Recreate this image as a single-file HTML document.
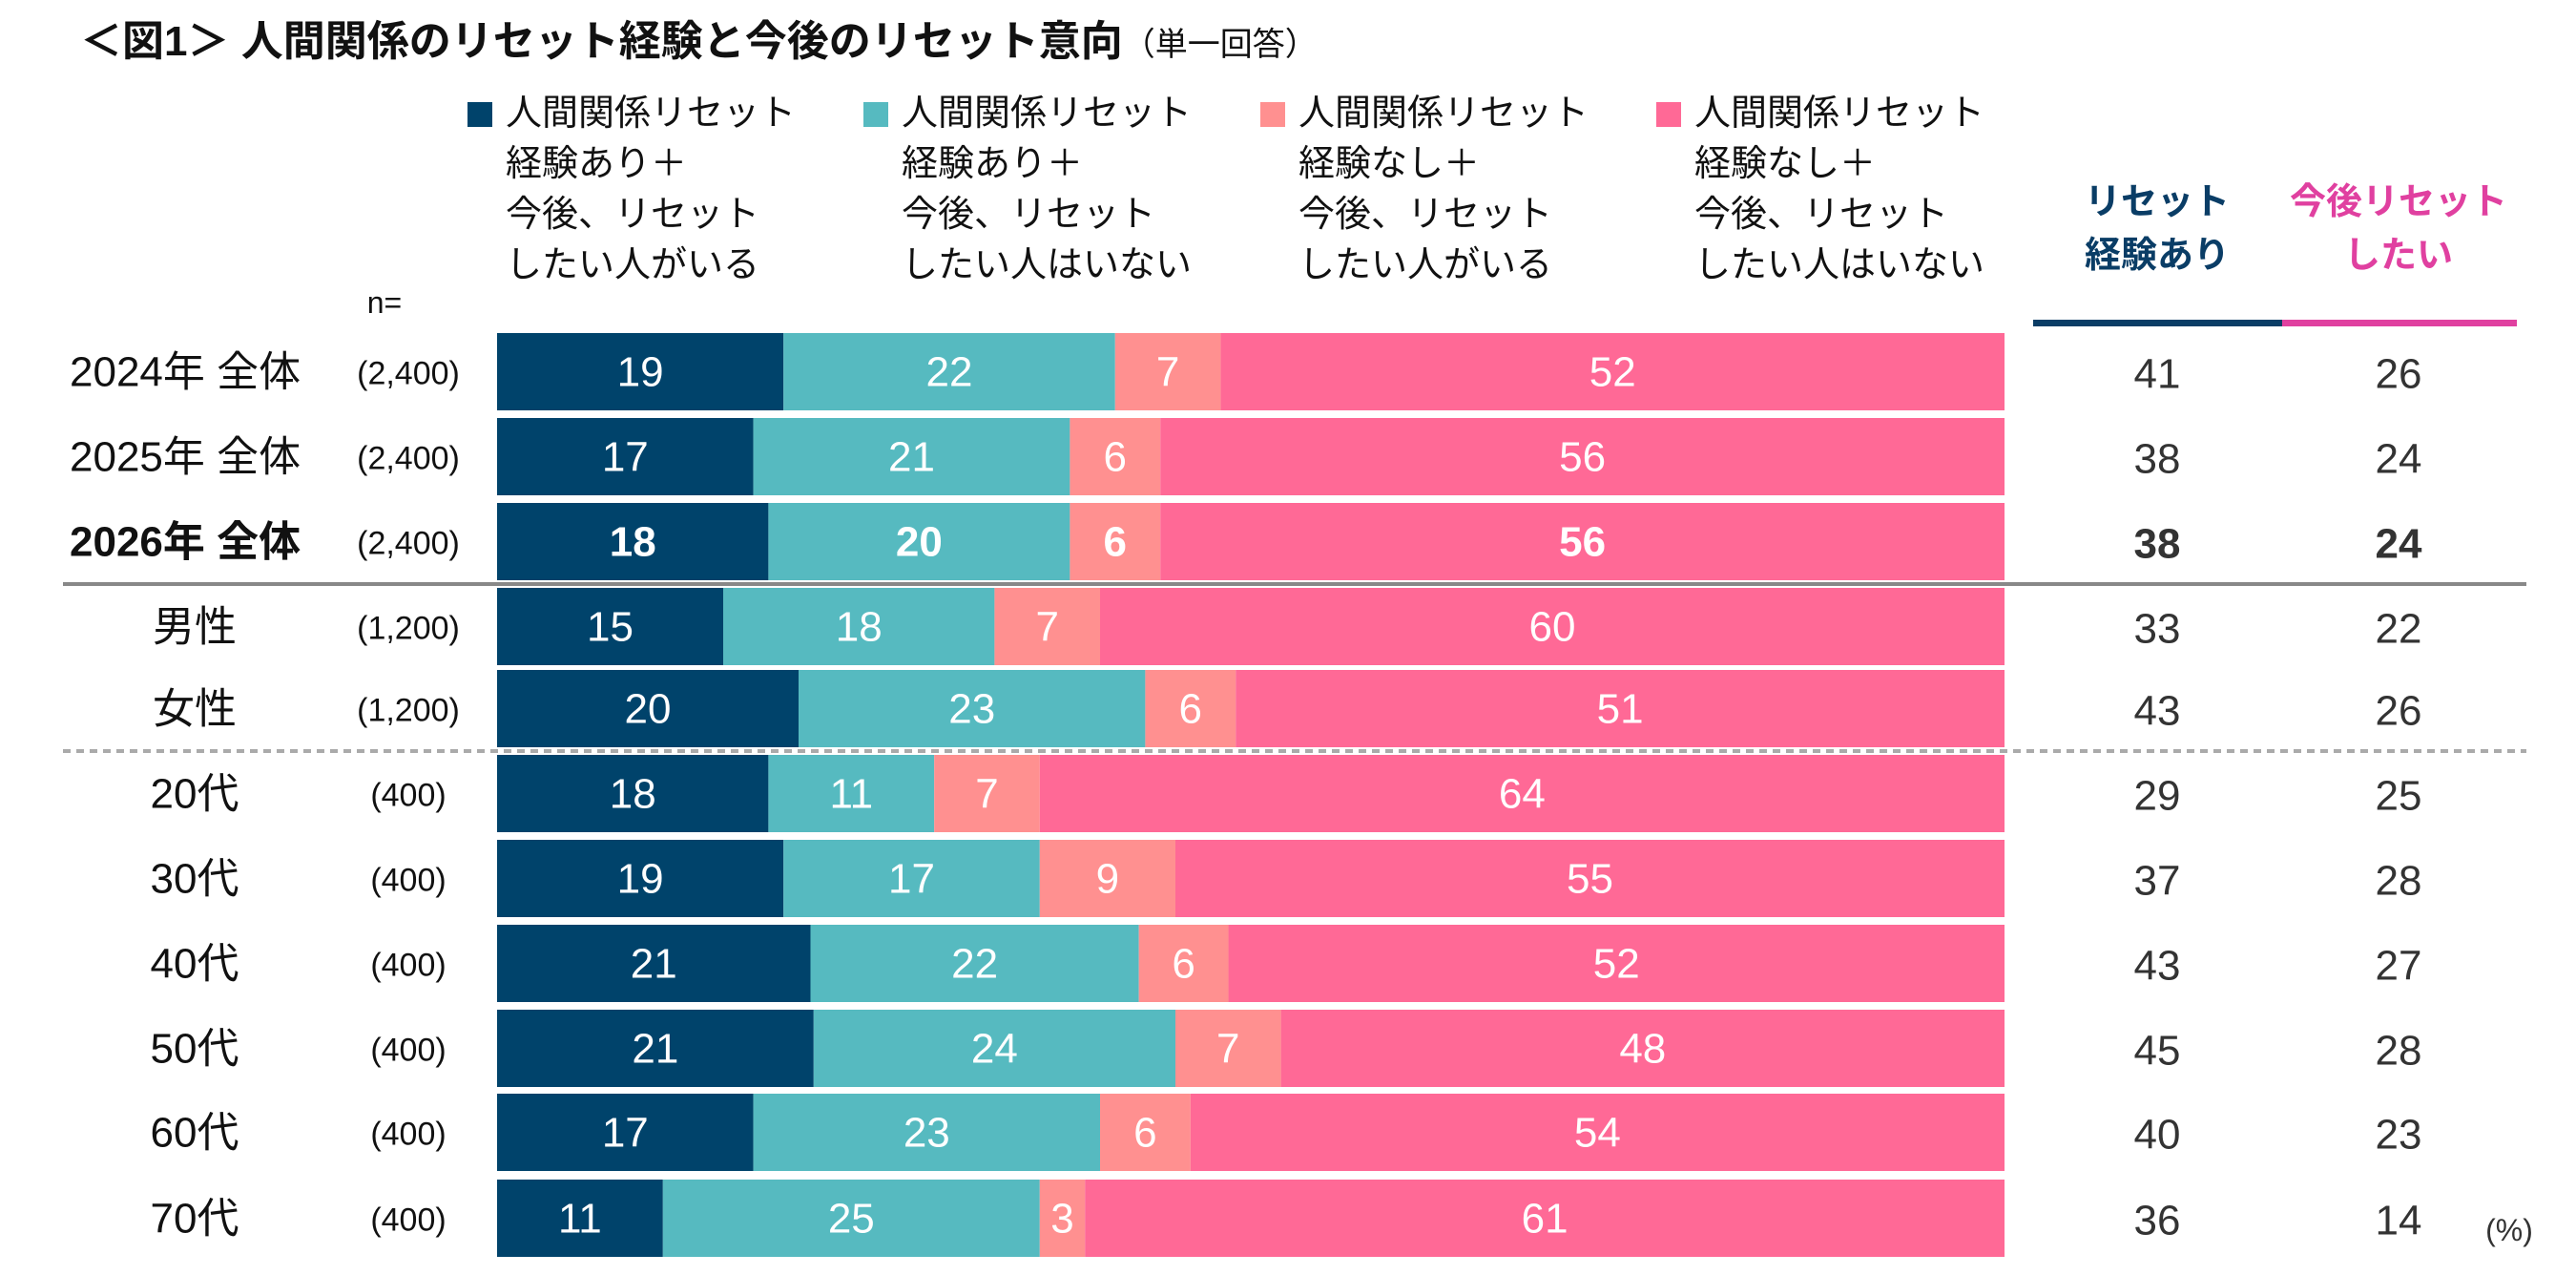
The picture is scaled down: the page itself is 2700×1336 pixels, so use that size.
<!DOCTYPE html>
<html><head><meta charset="utf-8"><style>
html,body{margin:0;padding:0;background:#fff;}
svg{display:block;font-family:"Liberation Sans","Noto Sans CJK JP",sans-serif;}
</style></head><body>
<svg id="chart" width="2700" height="1336" viewBox="0 0 2700 1336" xmlns="http://www.w3.org/2000/svg">
<text x="84" y="58" font-size="44" font-weight="bold" fill="#111">＜図1＞ 人間関係のリセット経験と今後のリセット意向<tspan font-size="34" font-weight="normal">（単一回答）</tspan></text>
<g id="legend"></g>
<text x="2261" y="224" font-size="38" font-weight="bold" fill="#0a3d66" text-anchor="middle">リセット</text>
<text x="2261" y="280" font-size="38" font-weight="bold" fill="#0a3d66" text-anchor="middle">経験あり</text>
<text x="2514" y="224" font-size="38" font-weight="bold" fill="#e040a0" text-anchor="middle">今後リセット</text>
<text x="2514" y="280" font-size="38" font-weight="bold" fill="#e040a0" text-anchor="middle">したい</text>
<rect x="2131" y="335" width="261" height="7" fill="#0a3d66"/>
<rect x="2392" y="335" width="246" height="7" fill="#e040a0"/>
<text x="403" y="328" font-size="32" fill="#111" text-anchor="middle">n=</text>
<line x1="66" y1="612" x2="2648" y2="612" stroke="#888" stroke-width="4"/>
<line x1="66" y1="787" x2="2648" y2="787" stroke="#aaa" stroke-width="4" stroke-dasharray="8,6"/>
<text x="2630" y="1300" font-size="32" fill="#333" text-anchor="middle">(%)</text>
<g id="bars"></g>
</svg>
<script>
const categories = ["2024年 全体","2025年 全体","2026年 全体","男性","女性","20代","30代","40代","50代","60代","70代"];
const sampleSizes = ["(2,400)","(2,400)","(2,400)","(1,200)","(1,200)","(400)","(400)","(400)","(400)","(400)","(400)"];
const seriesExpWant = [19,17,18,15,20,18,19,21,21,17,11];
const seriesExpNoWant = [22,21,20,18,23,11,17,22,24,23,25];
const seriesNoExpWant = [7,6,6,7,6,7,9,6,7,6,3];
const seriesNoExpNoWant = [52,56,56,60,51,64,55,52,48,54,61];
const totalExperience = [41,38,38,33,43,29,37,43,45,40,36];
const totalWantReset = [26,24,24,22,26,25,28,27,28,23,14];
const seriesNames = [["人間関係リセット","経験あり＋","今後、リセット","したい人がいる"],["人間関係リセット","経験あり＋","今後、リセット","したい人はいない"],["人間関係リセット","経験なし＋","今後、リセット","したい人がいる"],["人間関係リセット","経験なし＋","今後、リセット","したい人はいない"]];
const colors = ["#00436b","#56bac0","#ff9090","#ff6996"];
const NS = "http://www.w3.org/2000/svg";
const X0 = 521, X1 = 2101;
const rowTops = [349,438,527,616,702,791,880,969,1058,1146,1236];
const barH = 81;
function xScale(v, total){ return X0 + v/total*(X1-X0); }
function mk(tag, attrs, parent, text){ const e=document.createElementNS(NS,tag); for(const k in attrs) e.setAttribute(k,attrs[k]); if(text!==undefined) e.textContent=text; parent.appendChild(e); return e; }
const legend = document.getElementById('legend');
const legX = [490,905,1321,1736];
seriesNames.forEach((lines,i)=>{
  const sq = mk('rect',{x:legX[i],y:107,width:26,height:26,fill:colors[i]},legend);
  
  
  lines.forEach((ln,j)=>{
    const t = mk('text',{x:legX[i]+40,y:131+j*53,'font-size':38,fill:'#111'},legend,ln);
    
    
  });
});
const bars = document.getElementById('bars');
const series = [seriesExpWant,seriesExpNoWant,seriesNoExpWant,seriesNoExpNoWant];
categories.forEach((cat,r)=>{
  const top = rowTops[r], cy = top+barH/2+15;
  const bold = r===2 ? 'bold' : 'normal';
  const isYear = r<3;
  const lbl = mk('text',{x:isYear?73:204,y:cy,'font-size':44,'font-weight':bold,fill:'#111','text-anchor':isYear?'start':'middle'},bars,cat);
  
  
  const nl = mk('text',{x:428,y:cy-2,'font-size':34,fill:'#111','text-anchor':'middle'},bars,sampleSizes[r]);
  
  
  const total = series.reduce((a,s)=>a+s[r],0);
  let cum = 0;
  series.forEach((s,i)=>{
    const v = s[r];
    const x = xScale(cum,total), w = xScale(cum+v,total)-x;
    const rc = mk('rect',{x:x,y:top,width:w,height:barH,fill:colors[i]},bars);
    
    
    const t = mk('text',{x:x+w/2,y:cy,'font-size':44,'font-weight':bold,fill:'#fff','text-anchor':'middle'},bars,String(v));
    
    
    cum += v;
  });
  const a = mk('text',{x:2261,y:cy+2,'font-size':44,'font-weight':bold,fill:'#333','text-anchor':'middle'},bars,String(totalExperience[r]));
  
  
  const b = mk('text',{x:2514,y:cy+2,'font-size':44,'font-weight':bold,fill:'#333','text-anchor':'middle'},bars,String(totalWantReset[r]));
  
  
});
</script>
</body></html>
